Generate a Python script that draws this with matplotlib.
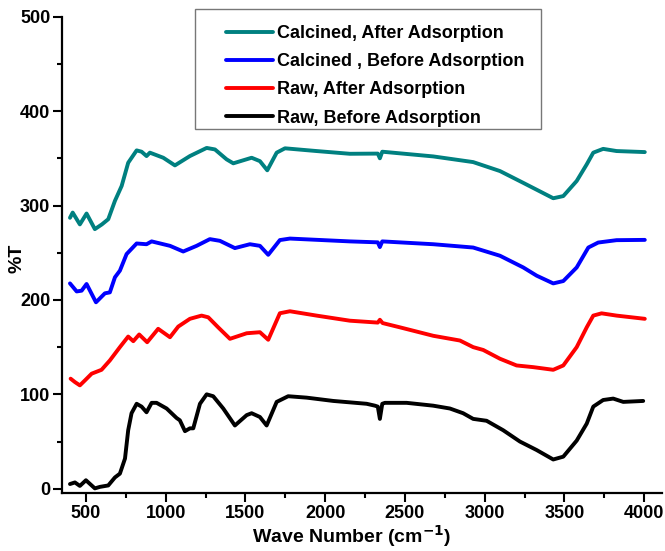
import matplotlib
matplotlib.use("Agg")
import matplotlib.pyplot as plt
from matplotlib.patches import Rectangle
from matplotlib.ticker import MultipleLocator

plt.rcParams['font.family'] = ['Liberation Sans', 'DejaVu Sans']
plt.rcParams['font.weight'] = 'bold'
plt.rcParams['mathtext.default'] = 'bf'

# ---- data ----
raw_before_x = [400, 431, 462, 500, 556, 588, 640, 682, 713, 745, 765, 786, 818, 849, 880, 912, 943,
                1006, 1068, 1089, 1121, 1152, 1173, 1215, 1257, 1298, 1361, 1434, 1508, 1539, 1591,
                1633, 1696, 1768, 1884, 2051, 2260, 2312, 2330, 2343, 2358, 2375, 2511, 2677, 2782,
                2865, 2928, 3012, 3116, 3221, 3326, 3430, 3493, 3577, 3640, 3681, 3743, 3806, 3869, 3994]
raw_before_y = [5, 6.7, 3, 9, 0.4, 2, 3.5, 12, 16, 32, 62, 80, 90, 87, 81, 91, 91,
                85, 75, 72.5, 61, 64, 64, 90, 100, 98, 85, 67, 78, 80, 76,
                67, 92, 98, 96.5, 93, 90, 88, 87, 74, 90, 91, 91, 88, 85,
                80, 74, 72, 62, 50, 41, 31, 34, 51, 69, 87, 94, 95.5, 92, 93]

raw_after_x = [404, 431, 462, 494, 536, 598, 650, 713, 765, 797, 834, 884, 953, 1027, 1079, 1152,
               1225, 1267, 1329, 1403, 1508, 1591, 1643, 1716, 1779, 1946, 2155, 2330, 2343, 2360,
               2468, 2678, 2845, 2928, 2991, 3096, 3200, 3305, 3430, 3493, 3577, 3640, 3681, 3733,
               3827, 4004]
raw_after_y = [116.6, 113, 109.5, 114.8, 121.9, 126, 135.9, 150, 161.2, 156.3, 163.4, 155.2, 169.4,
               160.5, 171.8, 180, 183.4, 181.6, 171, 158.8, 164.7, 165.8, 157.8, 185.9, 188, 183.4,
               178, 176, 179, 175.5, 171, 162, 157, 150, 147, 137.7, 130.6, 128.8, 126, 130.6, 150,
               171, 183.4, 185.8, 183.4, 180]

calc_before_x = [400, 442, 473, 504, 563, 619, 650, 682, 713, 755, 818, 880, 912, 1027, 1110, 1194,
                 1277, 1340, 1434, 1528, 1591, 1643, 1716, 1779, 2155, 2330, 2343, 2358, 2678, 2928,
                 3096, 3242, 3326, 3430, 3493, 3577, 3650, 3712, 3827, 4004]
calc_before_y = [217.5, 209, 209.8, 216.9, 197.5, 207, 208, 224, 231, 248.6, 259.8, 259, 262, 257.3,
                 251.3, 257.3, 264.4, 262.6, 254.9, 259, 257.3, 247.8, 263.4, 265, 262, 261, 256,
                 262, 259, 255.5, 246.8, 234.4, 225.7, 217.5, 220, 234.4, 255.5, 260.8, 263.3, 263.6]

calc_after_x = [400, 417, 462, 504, 556, 600, 640, 682, 724, 765, 818, 849, 880, 901, 985, 1058, 1152,
                1257, 1309, 1382, 1424, 1539, 1591, 1637, 1696, 1748, 1946, 2155, 2330, 2343, 2358,
                2678, 2928, 3096, 3242, 3346, 3430, 3493, 3577, 3640, 3681, 3743, 3827, 4004]
calc_after_y = [287, 292.5, 280, 291.5, 275, 280, 285.5, 305, 320.7, 345.3, 358.4, 357, 352.4, 356,
                350.6, 342.5, 352.4, 361, 359.4, 348.9, 344.7, 350.6, 347, 337.3, 356, 360.6, 357.7,
                354.8, 355, 350, 357, 352, 346, 336.5, 324, 315, 307.7, 310, 326, 343.6, 356, 360,
                357.7, 356.6]

labels = ["Calcined, After Adsorption", "Calcined , Before Adsorption",
          "Raw, After Adsorption", "Raw, Before Adsorption"]
colors = ["#008080", "#0000FF", "#FF0000", "#000000"]

xticks = [500, 1000, 1500, 2000, 2500, 3000, 3500, 4000]
yticks = [0, 100, 200, 300, 400, 500]

# ---- figure ----
W, H = 665, 551
fig = plt.figure(figsize=(W / 100, H / 100), dpi=100)
ax_l, ax_r, ax_b, ax_t = 62, 661.7, 493, 16.7
ax = fig.add_axes([ax_l / W, 1 - ax_b / H, (ax_r - ax_l) / W, (ax_b - ax_t) / H])

series = [(calc_after_x, calc_after_y), (calc_before_x, calc_before_y),
          (raw_after_x, raw_after_y), (raw_before_x, raw_before_y)]
lines = []
for (xs, ys), lab, col in zip(series, labels, colors):
    ln, = ax.plot(xs, ys, color=col, lw=2.8, label=lab, solid_joinstyle='round',
                  solid_capstyle='round')
    lines.append(ln)

ax.set_xlim(350, 4110)
ax.set_ylim(-4.5, 500)
ax.set_xticks(xticks)
ax.set_yticks(yticks)
ax.xaxis.set_minor_locator(MultipleLocator(250))
ax.yaxis.set_minor_locator(MultipleLocator(50))

for s in ['top', 'right']:
    ax.spines[s].set_visible(False)
for s in ['left', 'bottom']:
    ax.spines[s].set_linewidth(1.6)

ax.tick_params(which='major', direction='out', length=6.5, width=1.5, labelsize=13, pad=2)
ax.tick_params(which='minor', direction='out', length=3.5, width=1.5)
for t in ax.get_xticklabels() + ax.get_yticklabels():
    t.set_fontweight('bold')

fig.text(352 / W, 1 - 536 / H, "Wave Number (cm$^{-1}$)", fontsize=14, fontweight='bold',
         ha='center', va='center')
fig.text(17 / W, 1 - 258 / H, "%T", fontsize=14, fontweight='bold', rotation=90,
         ha='center', va='center')

leg = ax.legend(handles=lines, loc='upper left', frameon=False,
                prop={'weight': 'bold', 'size': 13},
                handlelength=2.6, handletextpad=0.25, labelspacing=0.62,
                bbox_to_anchor=((226 - ax_l) / (ax_r - ax_l), 1 - (25 - ax_t) / (ax_b - ax_t)),
                borderaxespad=0, borderpad=0)

# legend frame
bx0, bx1, by0, by1 = 195, 540.7, 9.3, 128.5
fig.patches.append(Rectangle((bx0 / W, 1 - by1 / H), (bx1 - bx0) / W, (by1 - by0) / H,
                             transform=fig.transFigure, fill=False, edgecolor='#777777',
                             lw=1.0, zorder=5))

fig.savefig("out.png", dpi=100)
